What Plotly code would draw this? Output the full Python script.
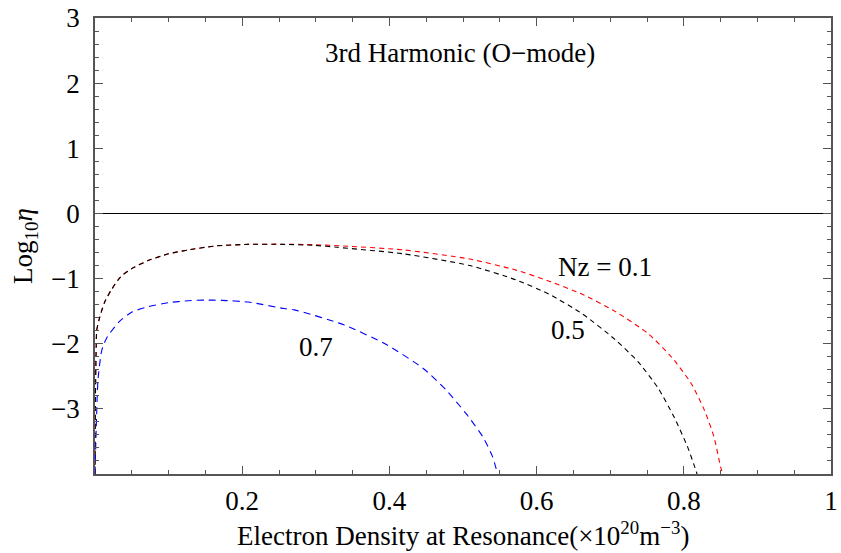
import plotly.graph_objects as go

# Nz = 0.1 (red)
x_nz01 = [0.0, 0.0005, 0.0016, 0.0024, 0.006, 0.0128, 0.0218, 0.035, 0.051, 0.073, 0.1, 0.127,
          0.163, 0.208, 0.253, 0.298, 0.338, 0.419, 0.509, 0.572, 0.617, 0.662, 0.706, 0.751,
          0.783, 0.810, 0.828, 0.841, 0.850, 0.853]
y_nz01 = [-4.0, -2.9, -2.05, -1.79, -1.61, -1.37, -1.18, -0.97, -0.84, -0.72, -0.62, -0.56,
          -0.50, -0.475, -0.472, -0.48, -0.50, -0.56, -0.70, -0.87, -1.04, -1.24, -1.50, -1.84,
          -2.20, -2.61, -3.02, -3.43, -3.89, -4.0]

# Nz = 0.5 (black)
x_nz05 = [0.0, 0.0005, 0.0016, 0.0024, 0.006, 0.0128, 0.0218, 0.035, 0.051, 0.073, 0.1, 0.127,
          0.163, 0.208, 0.253, 0.298, 0.329, 0.419, 0.509, 0.572, 0.617, 0.662, 0.706, 0.738,
          0.765, 0.787, 0.805, 0.816, 0.818]
y_nz05 = [-4.0, -2.9, -2.05, -1.79, -1.61, -1.37, -1.18, -0.97, -0.84, -0.72, -0.62, -0.56,
          -0.50, -0.475, -0.475, -0.49, -0.52, -0.62, -0.80, -1.02, -1.24, -1.54, -1.93, -2.28,
          -2.68, -3.13, -3.58, -3.93, -4.0]

# Nz = 0.7 (blue)
x_nz07 = [0.0, 0.0016, 0.004, 0.0083, 0.0105, 0.017, 0.033, 0.051, 0.073, 0.1, 0.127, 0.15,
          0.172, 0.208, 0.257, 0.271, 0.338, 0.397, 0.446, 0.477, 0.504, 0.527, 0.540, 0.547]
y_nz07 = [-4.0, -3.32, -2.56, -2.15, -2.05, -1.89, -1.66, -1.51, -1.43, -1.37, -1.34, -1.33,
          -1.335, -1.36, -1.46, -1.48, -1.71, -2.02, -2.38, -2.71, -3.07, -3.43, -3.73, -4.0]

x_tickvals = [0.2, 0.4, 0.6, 0.8, 1.0]
x_ticktext = ["0.2", "0.4", "0.6", "0.8", "1"]
y_tickvals = [-3, -2, -1, 0, 1, 2, 3]
y_ticktext = ["\u22123", "\u22122", "\u22121", "0", "1", "2", "3"]

FONT = "'Liberation Serif', 'Times New Roman', Times, serif"

fig = go.Figure()
fig.add_trace(go.Scatter(x=x_nz01, y=y_nz01, mode="lines",
                         line=dict(color="red", width=1.1, dash="5px,4px",
                                   shape="spline", smoothing=0.6)))
fig.add_trace(go.Scatter(x=x_nz05, y=y_nz05, mode="lines",
                         line=dict(color="black", width=1.1, dash="5px,4px",
                                   shape="spline", smoothing=0.6)))
fig.add_trace(go.Scatter(x=x_nz07, y=y_nz07, mode="lines",
                         line=dict(color="blue", width=1.1, dash="7px,5px",
                                   shape="spline", smoothing=0.6)))

axis_common = dict(showgrid=False, showline=True, linecolor="#555", linewidth=1.5,
                   mirror="ticks", ticks="inside", tickcolor="#555", tickwidth=1.2,
                   ticklen=8, ticklabeloverflow="allow",
                   tickfont=dict(family=FONT, size=27, color="black"))

fig.update_xaxes(range=[0, 1], tickvals=x_tickvals, ticktext=x_ticktext,
                 zeroline=False, ticklabelstandoff=2,
                 minor=dict(dtick=0.05, ticks="inside", ticklen=4, tickcolor="#555", tickwidth=1),
                 **axis_common)
fig.update_yaxes(range=[-4, 3], tickvals=y_tickvals, ticktext=y_ticktext,
                 zeroline=True, zerolinecolor="black", zerolinewidth=1.2,
                 ticklabelstandoff=8,
                 minor=dict(dtick=0.2, ticks="inside", ticklen=4, tickcolor="#555", tickwidth=1),
                 **axis_common)

ann_font = dict(family=FONT, size=27, color="black")
fig.add_annotation(x=0.496, y=2.47, text="3rd Harmonic (O\u2212mode)", showarrow=False, font=ann_font)
fig.add_annotation(x=0.693, y=-0.82, text="Nz = 0.1", showarrow=False, font=ann_font)
fig.add_annotation(x=0.643, y=-1.79, text="0.5", showarrow=False, font=ann_font)
fig.add_annotation(x=0.300, y=-2.05, text="0.7", showarrow=False, font=ann_font)

# axis titles
fig.add_annotation(xref="paper", yref="paper", x=0.5, y=0, yshift=-60, yanchor="middle",
                   text="Electron Density at Resonance(\u00d710<sup>20</sup>m<sup>\u22123</sup>)",
                   showarrow=False, font=ann_font)
fig.add_annotation(xref="paper", yref="paper", x=0, y=0.5, xshift=-70, xanchor="center",
                   yanchor="middle",
                   text="Log<sub>10</sub><i>\u03b7</i>", textangle=-90,
                   showarrow=False, font=ann_font)

fig.update_layout(width=841, height=553, margin=dict(l=95, r=3, t=17, b=79),
                  plot_bgcolor="white", paper_bgcolor="white", showlegend=False)

fig.write_html("out.html")
